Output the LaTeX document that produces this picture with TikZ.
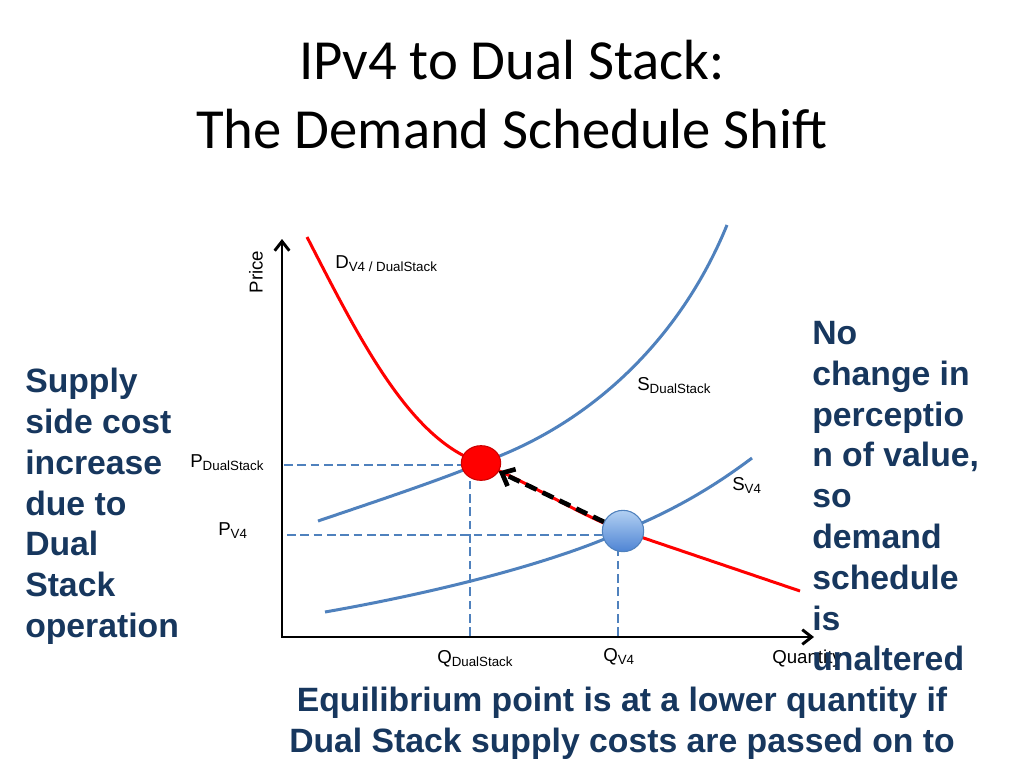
\documentclass[tikz,border=0pt]{standalone}
\usepackage{fontspec}
\setmainfont{Liberation Sans}
\newfontfamily\titlefont{Carlito}
\usetikzlibrary{shapes.geometric, arrows.meta}
\definecolor{navy}{RGB}{23,55,94}
\definecolor{curveblue}{RGB}{79,129,189}
\definecolor{balltop}{RGB}{178,208,242}
\definecolor{ballbot}{RGB}{78,132,212}
\newcommand{\econsub}[2]{#1\raisebox{-0.35ex}{\fontsize{10}{12}\selectfont #2}}

\tikzstyle{curve} = [line width=2.25pt, curveblue]
\tikzstyle{demand} = [line width=2.25pt, red]
\tikzstyle{guide} = [line width=2pt, curveblue, dash pattern=on 6.5pt off 3.5pt]
\tikzstyle{axisline} = [line width=2.2pt, line join=miter, {Straight Barb[length=7pt,width=11pt]}-{Straight Barb[length=7pt,width=11pt]}]
\tikzstyle{shiftarrow} = [line width=3.5pt, dash pattern=on 9pt off 5pt, -{Straight Barb[length=8pt,width=14pt]}]
\tikzstyle{lbl} = [font=\fontsize{14}{16}\selectfont, inner sep=0pt]
\tikzstyle{note} = [font=\fontsize{25.3}{30.6}\selectfont\bfseries, text=navy, inner sep=0pt]
\tikzstyle{redball} = [ellipse, fill=red, draw=red!80!black, line width=0.8pt, minimum width=29.5pt, minimum height=26pt, inner sep=0pt]
\tikzstyle{blueball} = [circle, top color=balltop, bottom color=ballbot, draw=curveblue, line width=0.8pt, minimum size=31pt, inner sep=0pt]

\begin{document}
\begin{tikzpicture}[x=0.75pt, y=-0.75pt]

    \fill[white] (0,0) rectangle (1024,768);
    \useasboundingbox (0,0) rectangle (1024,768);

    % Title
    \node (title) [font=\titlefont\fontsize{42.5}{52}\selectfont, align=center, anchor=north, inner sep=0pt] at (512,40) {IPv4 to Dual Stack:\\The Demand Schedule Shift};

    % Points
    \coordinate (origin) at (282,637);
    \coordinate (ytop) at (282,239);
    \coordinate (xend) at (814,637);
    \coordinate (e1) at (481,463);
    \coordinate (e2) at (623,531);
    \coordinate (dtop) at (307,237);
    \coordinate (dend) at (800,591);
    \coordinate (sdlow) at (318,521);
    \coordinate (sdtop) at (727,225);
    \coordinate (svlow) at (325,612);
    \coordinate (svtop) at (752,458);
    \coordinate (pdual) at (284,465);
    \coordinate (pv4) at (287,535);
    \coordinate (qdual) at (470,636);
    \coordinate (qv4) at (618,636);

    % Axes
    \draw [axisline] (ytop) -- (origin) -- (xend);

    % Curves
    \draw [demand] (dtop) .. controls (360,340) and (410,440) .. (e1) .. controls (530,483) and (580,515) .. (e2) -- (dend);
    \draw [curve] (sdlow) .. controls (380,500) and (440,480) .. (e1) .. controls (590,425) and (680,340) .. (sdtop);
    \draw [curve] (svlow) .. controls (450,590) and (560,560) .. (e2) .. controls (680,508) and (720,482) .. (svtop);

    % Guides
    \draw [guide] (pdual) -- (pdual -| e1);
    \draw [guide] (qdual) -- (qdual |- e1);
    \draw [guide] (pv4) -- (pv4 -| e2);
    \draw [guide] (qv4) -- (qv4 |- e2);

    % Equilibria
    \node (eqdual) [redball] at (e1) {};
    \node (eqv4) [blueball] at (e2) {};
    \draw [shiftarrow] (eqv4) -- (eqdual);

    % Labels
    \node (pricelbl) [lbl, rotate=90] at (256,272) {Price};
    \node (qtylbl) [lbl, anchor=base west] at (772,663) {Quantity};
    \node (dlbl) [lbl, anchor=base west] at (335,268) {\econsub{D}{V4 / DualStack}};
    \node (sdlbl) [lbl, anchor=base west] at (637,390) {\econsub{S}{DualStack}};
    \node (svlbl) [lbl, anchor=base west] at (732,490) {\econsub{S}{V4}};
    \node (pdlbl) [lbl, anchor=base west] at (190,467) {\econsub{P}{DualStack}};
    \node (pvlbl) [lbl, anchor=base west] at (218,535) {\econsub{P}{V4}};
    \node (qdlbl) [lbl, anchor=base west] at (437,663) {\econsub{Q}{DualStack}};
    \node (qvlbl) [lbl, anchor=base west] at (603,661) {\econsub{Q}{V4}};

    % Notes
    \node (supplynote) [note, align=left, anchor=north west] at (25,368) {Supply\\side cost\\increase\\due to\\Dual\\Stack\\operation};
    \node (demandnote) [note, align=left, anchor=north west] at (812,321) {No\\change in\\perceptio\\n of value,\\so\\demand\\schedule\\is\\unaltered};
    \node (bottomnote) [note, align=center, anchor=north] at (622,687) {Equilibrium point is at a lower quantity if\\Dual Stack supply costs are passed on to};

\end{tikzpicture}
\end{document}
